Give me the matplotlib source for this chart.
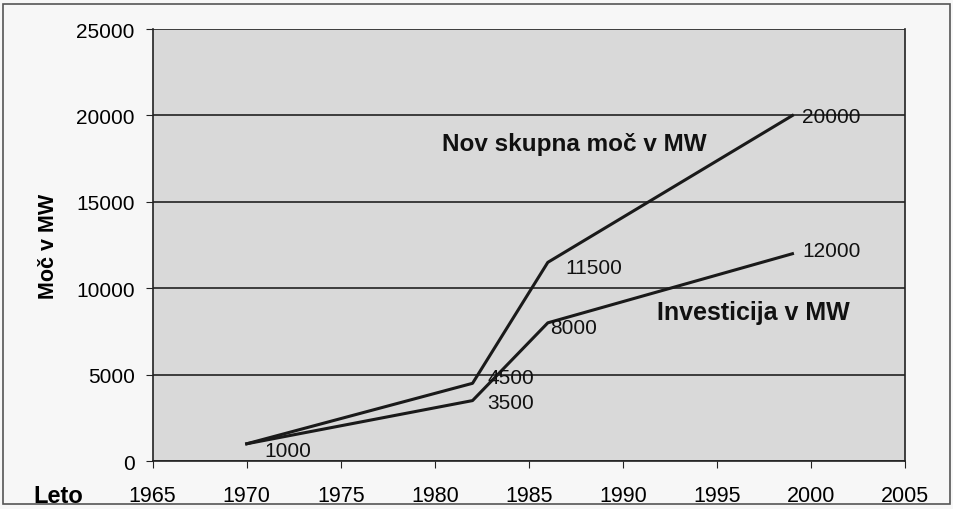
import matplotlib
matplotlib.use('Agg')
import matplotlib.pyplot as plt
from matplotlib.patches import Rectangle

# data
years = [1970, 1982, 1986, 1999]
skupna_moc = [1000, 4500, 11500, 20000]
investicija = [1000, 3500, 8000, 12000]

x_ticks = [1965, 1970, 1975, 1980, 1985, 1990, 1995, 2000, 2005]
y_ticks = [0, 5000, 10000, 15000, 20000, 25000]

# label offsets (pixels) from each point
skupna_offsets = [(18, -7), (15, 6), (18, -5), (10, -1)]
invest_offsets = [None, (15, -2), (2, -5), (10, 3)]

plt.rcParams['font.family'] = ['Liberation Sans', 'DejaVu Sans']

fig = plt.figure(figsize=(9.54, 5.10), dpi=100)
fig.patch.set_facecolor('#f7f7f7')
ax = fig.add_axes([0.160, 0.094, 0.789, 0.847])
ax.set_facecolor('#d9d9d9')

ax.plot(years, skupna_moc, color='#1a1a1a', lw=2.2)
ax.plot(years, investicija, color='#1a1a1a', lw=2.2)

for x, y, off in zip(years, skupna_moc, skupna_offsets):
    ax.annotate(str(y), (x, y), xytext=off, textcoords='offset pixels',
                ha='left', va='center', fontsize=15, color='#111111')
for x, y, off in zip(years, investicija, invest_offsets):
    if off is None:
        continue
    ax.annotate(str(y), (x, y), xytext=off, textcoords='offset pixels',
                ha='left', va='center', fontsize=15, color='#111111')

ax.text(1980.4, 18400, 'Nov skupna moč v MW', fontsize=17.5, fontweight='bold',
        ha='left', va='center', color='#111111')
ax.text(1991.8, 8600, 'Investicija v MW', fontsize=18, fontweight='bold',
        ha='left', va='center', color='#111111')

ax.set_xlim(1965, 2005)
ax.set_ylim(0, 25000)
ax.set_xticks(x_ticks)
ax.set_yticks(y_ticks)
ax.set_xticklabels([str(t) for t in x_ticks], fontsize=15.5)
ax.set_yticklabels([str(t) for t in y_ticks], fontsize=15)
ax.tick_params(axis='both', direction='out', length=5, color='#222222')
ax.tick_params(axis='x', pad=12)
ax.tick_params(axis='y', pad=8)
ax.yaxis.grid(True, color='#222222', lw=1.2)
ax.set_axisbelow(True)
for s in ax.spines.values():
    s.set_color('#222222')
    s.set_linewidth(1.2)
ax.spines['top'].set_visible(False)

ax.set_ylabel('Moč v MW', fontsize=15.5, fontweight='bold', labelpad=12)
fig.text(0.035, 0.027, 'Leto', fontsize=17, fontweight='bold', ha='left', va='center')

fig.patches.append(Rectangle((0.003, 0.01), 0.993, 0.98, transform=fig.transFigure,
                             fill=False, edgecolor='#555555', lw=1.2))

fig.savefig('out.png', dpi=100)
